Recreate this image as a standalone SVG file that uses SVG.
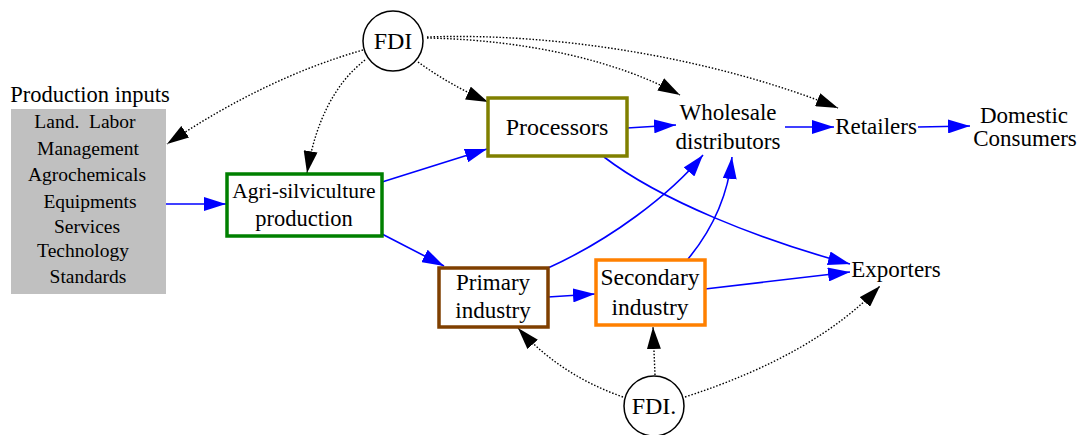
<svg xmlns="http://www.w3.org/2000/svg" width="1083" height="435" viewBox="0 0 1083 435">
  <style>
    text { font-family: "Times New Roman", Times, serif; fill: #000; text-anchor: middle; }
    .lbl { font-size: 23px; }
    .list { font-size: 19.5px; }
    .flow { fill: none; stroke: #0000ff; stroke-width: 1.6; marker-end: url(#blueHead); }
    .invest { fill: none; stroke: #000; stroke-width: 1.4; stroke-dasharray: 1.5 1.8; marker-end: url(#blackHead); }
    .box { fill: #fff; stroke-width: 3.5; }
    .ring { fill: #fff; stroke: #000; stroke-width: 1.5; }
  </style>
  <defs>
    <marker id="blueHead" markerUnits="userSpaceOnUse" markerWidth="22" markerHeight="14" refX="22" refY="7" orient="auto">
      <path d="M0,0 L22,7 L0,14 z" fill="#0000ff"/>
    </marker>
    <marker id="blackHead" markerUnits="userSpaceOnUse" markerWidth="22" markerHeight="14" refX="22" refY="7" orient="auto">
      <path d="M0,0 L22,7 L0,14 z" fill="#000"/>
    </marker>
  </defs>

  <rect width="1083" height="435" fill="#fff"/>

  <!-- connectors -->
  <g id="connectors">
    <!-- material flows -->
    <path class="flow" d="M166,204 L226,204"/>
    <path class="flow" d="M382,182 L487,149"/>
    <path class="flow" d="M382,234 L444,266"/>
    <path class="flow" d="M627,128 L676,125"/>
    <path class="flow" d="M785,127 L834,127"/>
    <path class="flow" d="M918,127 L970,126"/>
    <path class="flow" d="M604,157 C660,200 760,240 850,264"/>
    <path class="flow" d="M548,268 C610,240 670,195 703,155"/>
    <path class="flow" d="M688,259 C712,230 728,195 732,157"/>
    <path class="flow" d="M548,297 L595,294"/>
    <path class="flow" d="M705,289 L850,272"/>
    <!-- investment links -->
    <path class="invest" d="M363,50 Q265,78 167,144"/>
    <path class="invest" d="M365,60 Q320,95 307,173"/>
    <path class="invest" d="M418,62 Q450,85 488,102"/>
    <path class="invest" d="M427,38 C530,40 620,62 680,95"/>
    <path class="invest" d="M427,37 C560,32 720,60 838,108"/>
    <path class="invest" d="M623,397 Q560,375 518,328"/>
    <path class="invest" d="M655,375 L653,327"/>
    <path class="invest" d="M685,397 Q815,355 880,286"/>
  </g>

  <g id="production-inputs">
    <text x="90" y="102" style="font-size:22.5px">Production inputs</text>
    <rect x="11" y="109" width="155" height="185" fill="#c0c0c0"/>
    <text class="list" x="85" y="128" xml:space="preserve">Land.  Labor</text>
    <text class="list" x="88" y="155">Management</text>
    <text class="list" x="87" y="181">Agrochemicals</text>
    <text class="list" x="90" y="208">Equipments</text>
    <text class="list" x="87" y="233">Services</text>
    <text class="list" x="83" y="257">Technology</text>
    <text class="list" x="88" y="283">Standards</text>
  </g>

  <g id="fdi-top">
    <circle class="ring" cx="393" cy="41" r="30"/>
    <text class="lbl" x="393" y="49" style="font-size:24px">FDI</text>
  </g>

  <g id="fdi-bottom">
    <circle class="ring" cx="654" cy="406" r="30"/>
    <text class="lbl" x="654" y="414" style="font-size:24px">FDI.</text>
  </g>

  <g id="agri-silviculture">
    <rect class="box" x="227" y="174" width="155" height="62" stroke="#008000"/>
    <text class="lbl" x="304" y="198" style="font-size:21.5px">Agri-silviculture</text>
    <text class="lbl" x="304" y="226" style="font-size:22.5px">production</text>
  </g>

  <g id="processors">
    <rect class="box" x="488" y="98" width="139" height="58" stroke="#808000"/>
    <text class="lbl" x="557" y="135" style="font-size:24px">Processors</text>
  </g>

  <g id="primary-industry">
    <rect class="box" x="439" y="268" width="109" height="59" stroke="#7f3f00"/>
    <text class="lbl" x="493" y="290">Primary</text>
    <text class="lbl" x="493" y="318">industry</text>
  </g>

  <g id="secondary-industry">
    <rect class="box" x="596" y="260" width="109" height="65" stroke="#ff8000"/>
    <text class="lbl" x="650" y="285" style="font-size:23.5px">Secondary</text>
    <text class="lbl" x="650" y="315" style="font-size:23.5px">industry</text>
  </g>

  <g id="wholesale">
    <text class="lbl" x="728" y="120">Wholesale</text>
    <text class="lbl" x="728" y="149">distributors</text>
  </g>

  <g id="retailers">
    <text class="lbl" x="876" y="134">Retailers</text>
  </g>

  <g id="domestic-consumers">
    <text class="lbl" x="1024" y="123">Domestic</text>
    <text class="lbl" x="1025" y="146">Consumers</text>
  </g>

  <g id="exporters">
    <text class="lbl" x="896" y="277">Exporters</text>
  </g>
</svg>
